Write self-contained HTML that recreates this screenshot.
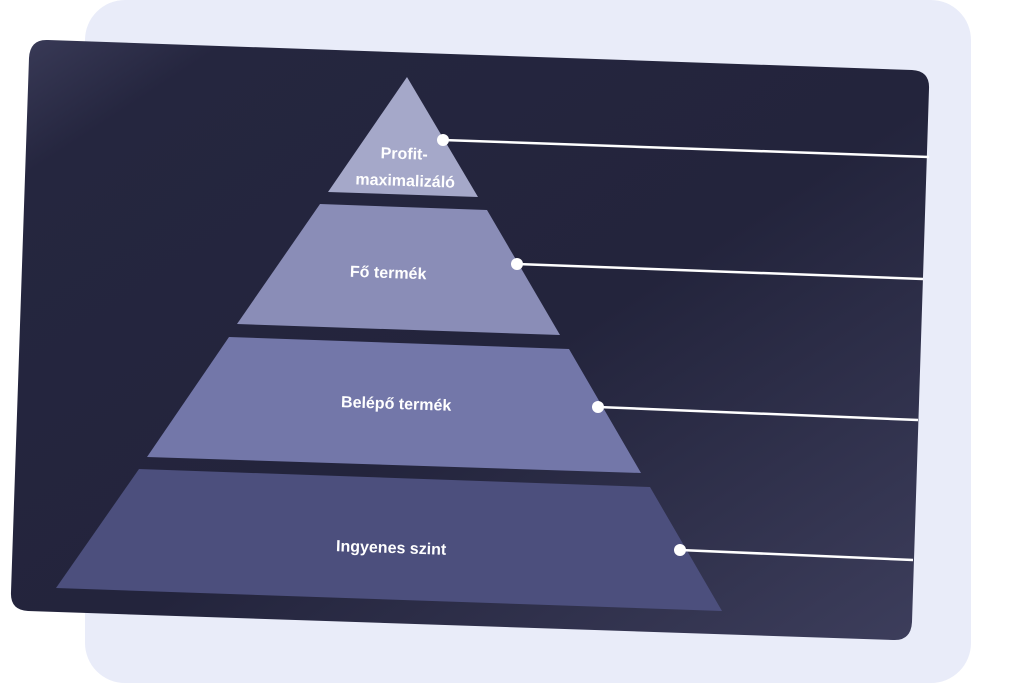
<!DOCTYPE html>
<html><head><meta charset="utf-8"><style>
html,body{margin:0;padding:0;background:#fff;width:1024px;height:683px;overflow:hidden}
svg{display:block}
text{font-family:"Liberation Sans",sans-serif;font-weight:bold;fill:#fff;font-size:16px}
</style></head><body>
<svg width="1024" height="683" viewBox="0 0 1024 683">
<defs>
<linearGradient id="g" x1="0" y1="0" x2="1" y2="1">
<stop offset="0" stop-color="#3a3b58"/>
<stop offset="0.12" stop-color="#25263f"/>
<stop offset="0.55" stop-color="#23243c"/>
<stop offset="1" stop-color="#3d3e5c"/>
</linearGradient>
</defs>
<rect x="85" y="0" width="886" height="683" rx="40" fill="#e9ecf9"/>
<path d="M48 40 L912 70 Q930 71 929 89 L912 622 Q911 641 893 640 L28 611 Q10 610 11 592 L29 58 Q30 39 48 40Z" fill="url(#g)"/>
<polygon points="407,77 478,197 328,192" fill="#a5a8c9"/>
<polygon points="320,204 487,210 560,335 237,324" fill="#8a8db7"/>
<polygon points="229,337 569,349 641,473 147,457" fill="#7377a9"/>
<polygon points="139,469 650,487 722,611 56,588" fill="#4c4f7d"/>
<g stroke="#fff" stroke-width="2.5">
<line x1="443" y1="140" x2="929" y2="157"/>
<line x1="517" y1="264" x2="923" y2="279"/>
<line x1="598" y1="407" x2="918" y2="420"/>
<line x1="680" y1="550" x2="913" y2="560"/>
</g>
<g fill="#fff">
<circle cx="443" cy="140" r="6"/>
<circle cx="517" cy="264" r="6"/>
<circle cx="598" cy="407" r="6"/>
<circle cx="680" cy="550" r="6"/>
</g>
<g text-anchor="middle">
<text transform="translate(404,159) rotate(1.9)">Profit-</text>
<text transform="translate(405,186) rotate(1.9)">maximalizáló</text>
<text transform="translate(388,278) rotate(1.9)">Fő termék</text>
<text transform="translate(396,409) rotate(1.9)">Belépő termék</text>
<text transform="translate(391,553) rotate(1.9)">Ingyenes szint</text>
</g>
</svg>
</body></html>
